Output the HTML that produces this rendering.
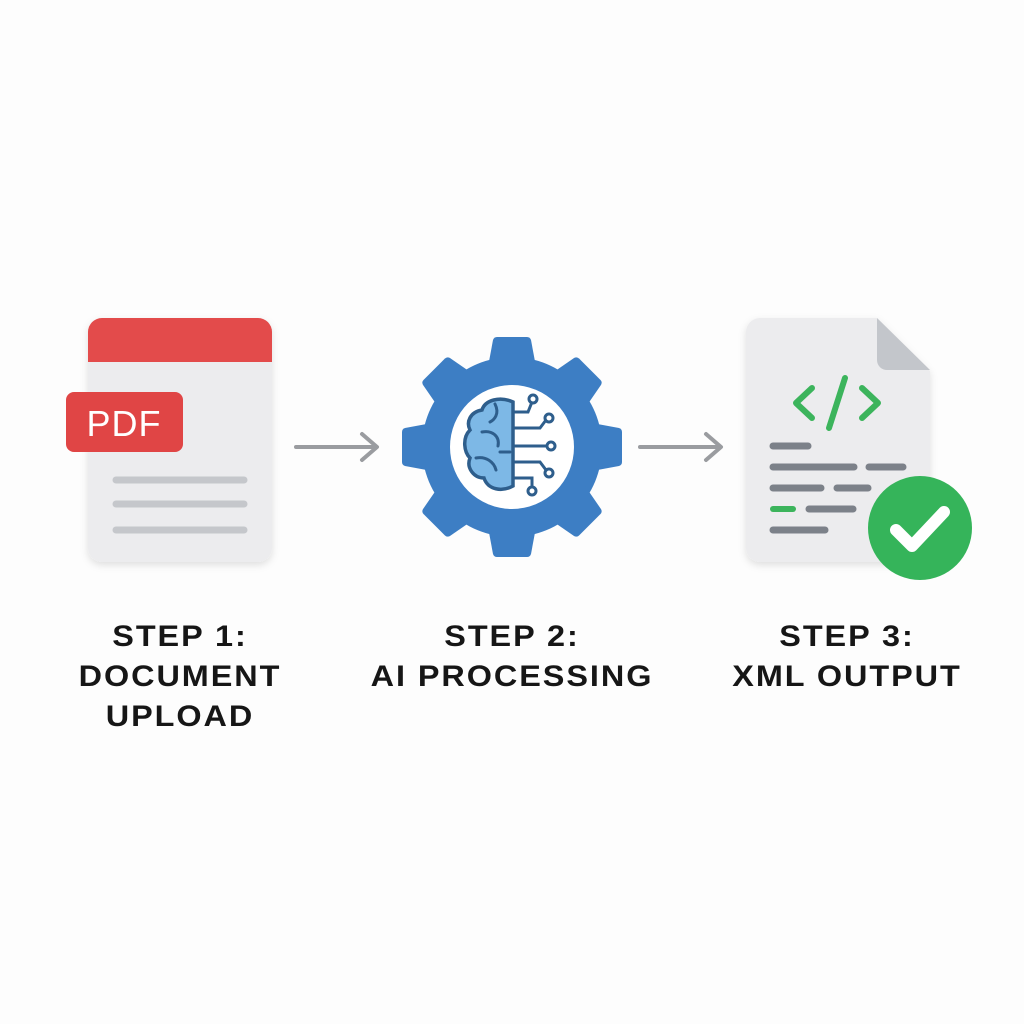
<!DOCTYPE html>
<html><head><meta charset="utf-8"><style>
body{margin:0;width:1024px;height:1024px;background:#fdfdfd;overflow:hidden;font-family:"Liberation Sans",sans-serif}
.t{position:absolute;width:300px;text-align:center;font-weight:bold;font-size:30px;line-height:40px;color:#161616;letter-spacing:1.8px;transform:scaleX(1.08)}
</style></head><body>
<svg width="1024" height="1024" style="position:absolute;left:0;top:0">
<defs><filter id="s" x="-20%" y="-20%" width="140%" height="140%"><feDropShadow dx="0" dy="3" stdDeviation="4" flood-opacity="0.12"/></filter></defs>
<g filter="url(#s)">
<rect x="88" y="318" width="184" height="244" rx="14" fill="#ececee"/>
</g>
<path d="M102 318 H258 A14 14 0 0 1 272 332 V362 H88 V332 A14 14 0 0 1 102 318Z" fill="#e34b4b"/>
<rect x="66" y="392" width="117" height="60" rx="8" fill="#e04545"/>
<text x="124" y="436" text-anchor="middle" font-family="Liberation Sans" font-size="36" fill="#fff" letter-spacing="1">PDF</text>
<g stroke="#c5c7cb" stroke-width="7" stroke-linecap="round">
<line x1="116" y1="480" x2="244" y2="480"/><line x1="116" y1="504" x2="244" y2="504"/><line x1="116" y1="530" x2="244" y2="530"/>
</g>
<g stroke="#9a9ca0" stroke-width="4" fill="none" stroke-linecap="round" stroke-linejoin="round">
<line x1="296" y1="447" x2="376" y2="447"/><polyline points="362,434 377,447 362,460"/>
<line x1="640" y1="447" x2="720" y2="447"/><polyline points="706,434 721,447 706,460"/>
</g>
<g transform="translate(512,447)" fill="#3d7ec4">
<circle r="90"/>
<g id="tooth"><path d="M-24 -80 L-19 -107 Q-18 -110 -15 -110 H15 Q18 -110 19 -107 L24 -80Z"/></g>
<use href="#tooth" transform="rotate(45)"/><use href="#tooth" transform="rotate(90)"/><use href="#tooth" transform="rotate(135)"/>
<use href="#tooth" transform="rotate(180)"/><use href="#tooth" transform="rotate(225)"/><use href="#tooth" transform="rotate(270)"/><use href="#tooth" transform="rotate(315)"/>
<circle r="62" fill="#fff"/>
</g>
<path d="M513 402 C500 396 485 400 482 410 C470 412 466 422 470 430 C462 438 464 452 470 458 C466 468 474 478 484 478 C488 490 502 492 513 486 Z" fill="#7db8e6" stroke="#2e5e8c" stroke-width="3.5"/>
<g fill="none" stroke="#2e5e8c" stroke-width="3" stroke-linecap="round">
<path d="M495 404 C500 414 494 420 490 422"/><path d="M482 432 C492 430 500 436 498 446"/><path d="M476 458 C486 456 494 462 496 470"/><path d="M500 452 L510 452"/>
<path d="M513 412 H528 L532 402"/><path d="M513 428 H540 L546 420"/><path d="M513 446 H546"/><path d="M513 462 H540 L546 470"/><path d="M513 478 H532 V488"/>
</g>
<g fill="#fff" stroke="#2e5e8c" stroke-width="3">
<circle cx="533" cy="399" r="4"/><circle cx="549" cy="418" r="4"/><circle cx="551" cy="446" r="4"/><circle cx="549" cy="473" r="4"/><circle cx="532" cy="491" r="4"/>
</g>
<g filter="url(#s)">
<path d="M760 318 H877 L930 371 V548 A14 14 0 0 1 916 562 H760 A14 14 0 0 1 746 548 V332 A14 14 0 0 1 760 318Z" fill="#ececee"/>
</g>
<path d="M877 318 V360 A10 10 0 0 0 887 370 H930 Z" fill="#c3c6cb"/>
<g stroke="#3cb45c" stroke-width="6" stroke-linecap="round" fill="none" stroke-linejoin="round">
<polyline points="812,388 796,403 812,418"/><line x1="845" y1="378" x2="829" y2="428"/><polyline points="862,388 878,403 862,418"/>
<line x1="773" y1="509" x2="793" y2="509"/>
</g>
<g stroke="#7c8189" stroke-width="7" stroke-linecap="round">
<line x1="773" y1="446" x2="808" y2="446"/><line x1="773" y1="467" x2="854" y2="467"/><line x1="869" y1="467" x2="903" y2="467"/>
<line x1="773" y1="488" x2="821" y2="488"/><line x1="837" y1="488" x2="868" y2="488"/>
<line x1="809" y1="509" x2="853" y2="509"/><line x1="773" y1="530" x2="825" y2="530"/>
</g>
<circle cx="920" cy="528" r="52" fill="#35b45a"/>
<polyline points="896,530 912,546 944,512" fill="none" stroke="#fff" stroke-width="12" stroke-linecap="round" stroke-linejoin="round"/>
</svg>
<div class="t" style="left:30px;top:617px">STEP 1:<br>DOCUMENT<br>UPLOAD</div>
<div class="t" style="left:362px;top:617px">STEP 2:<br>AI PROCESSING</div>
<div class="t" style="left:697px;top:617px">STEP 3:<br>XML OUTPUT</div>
</body></html>
